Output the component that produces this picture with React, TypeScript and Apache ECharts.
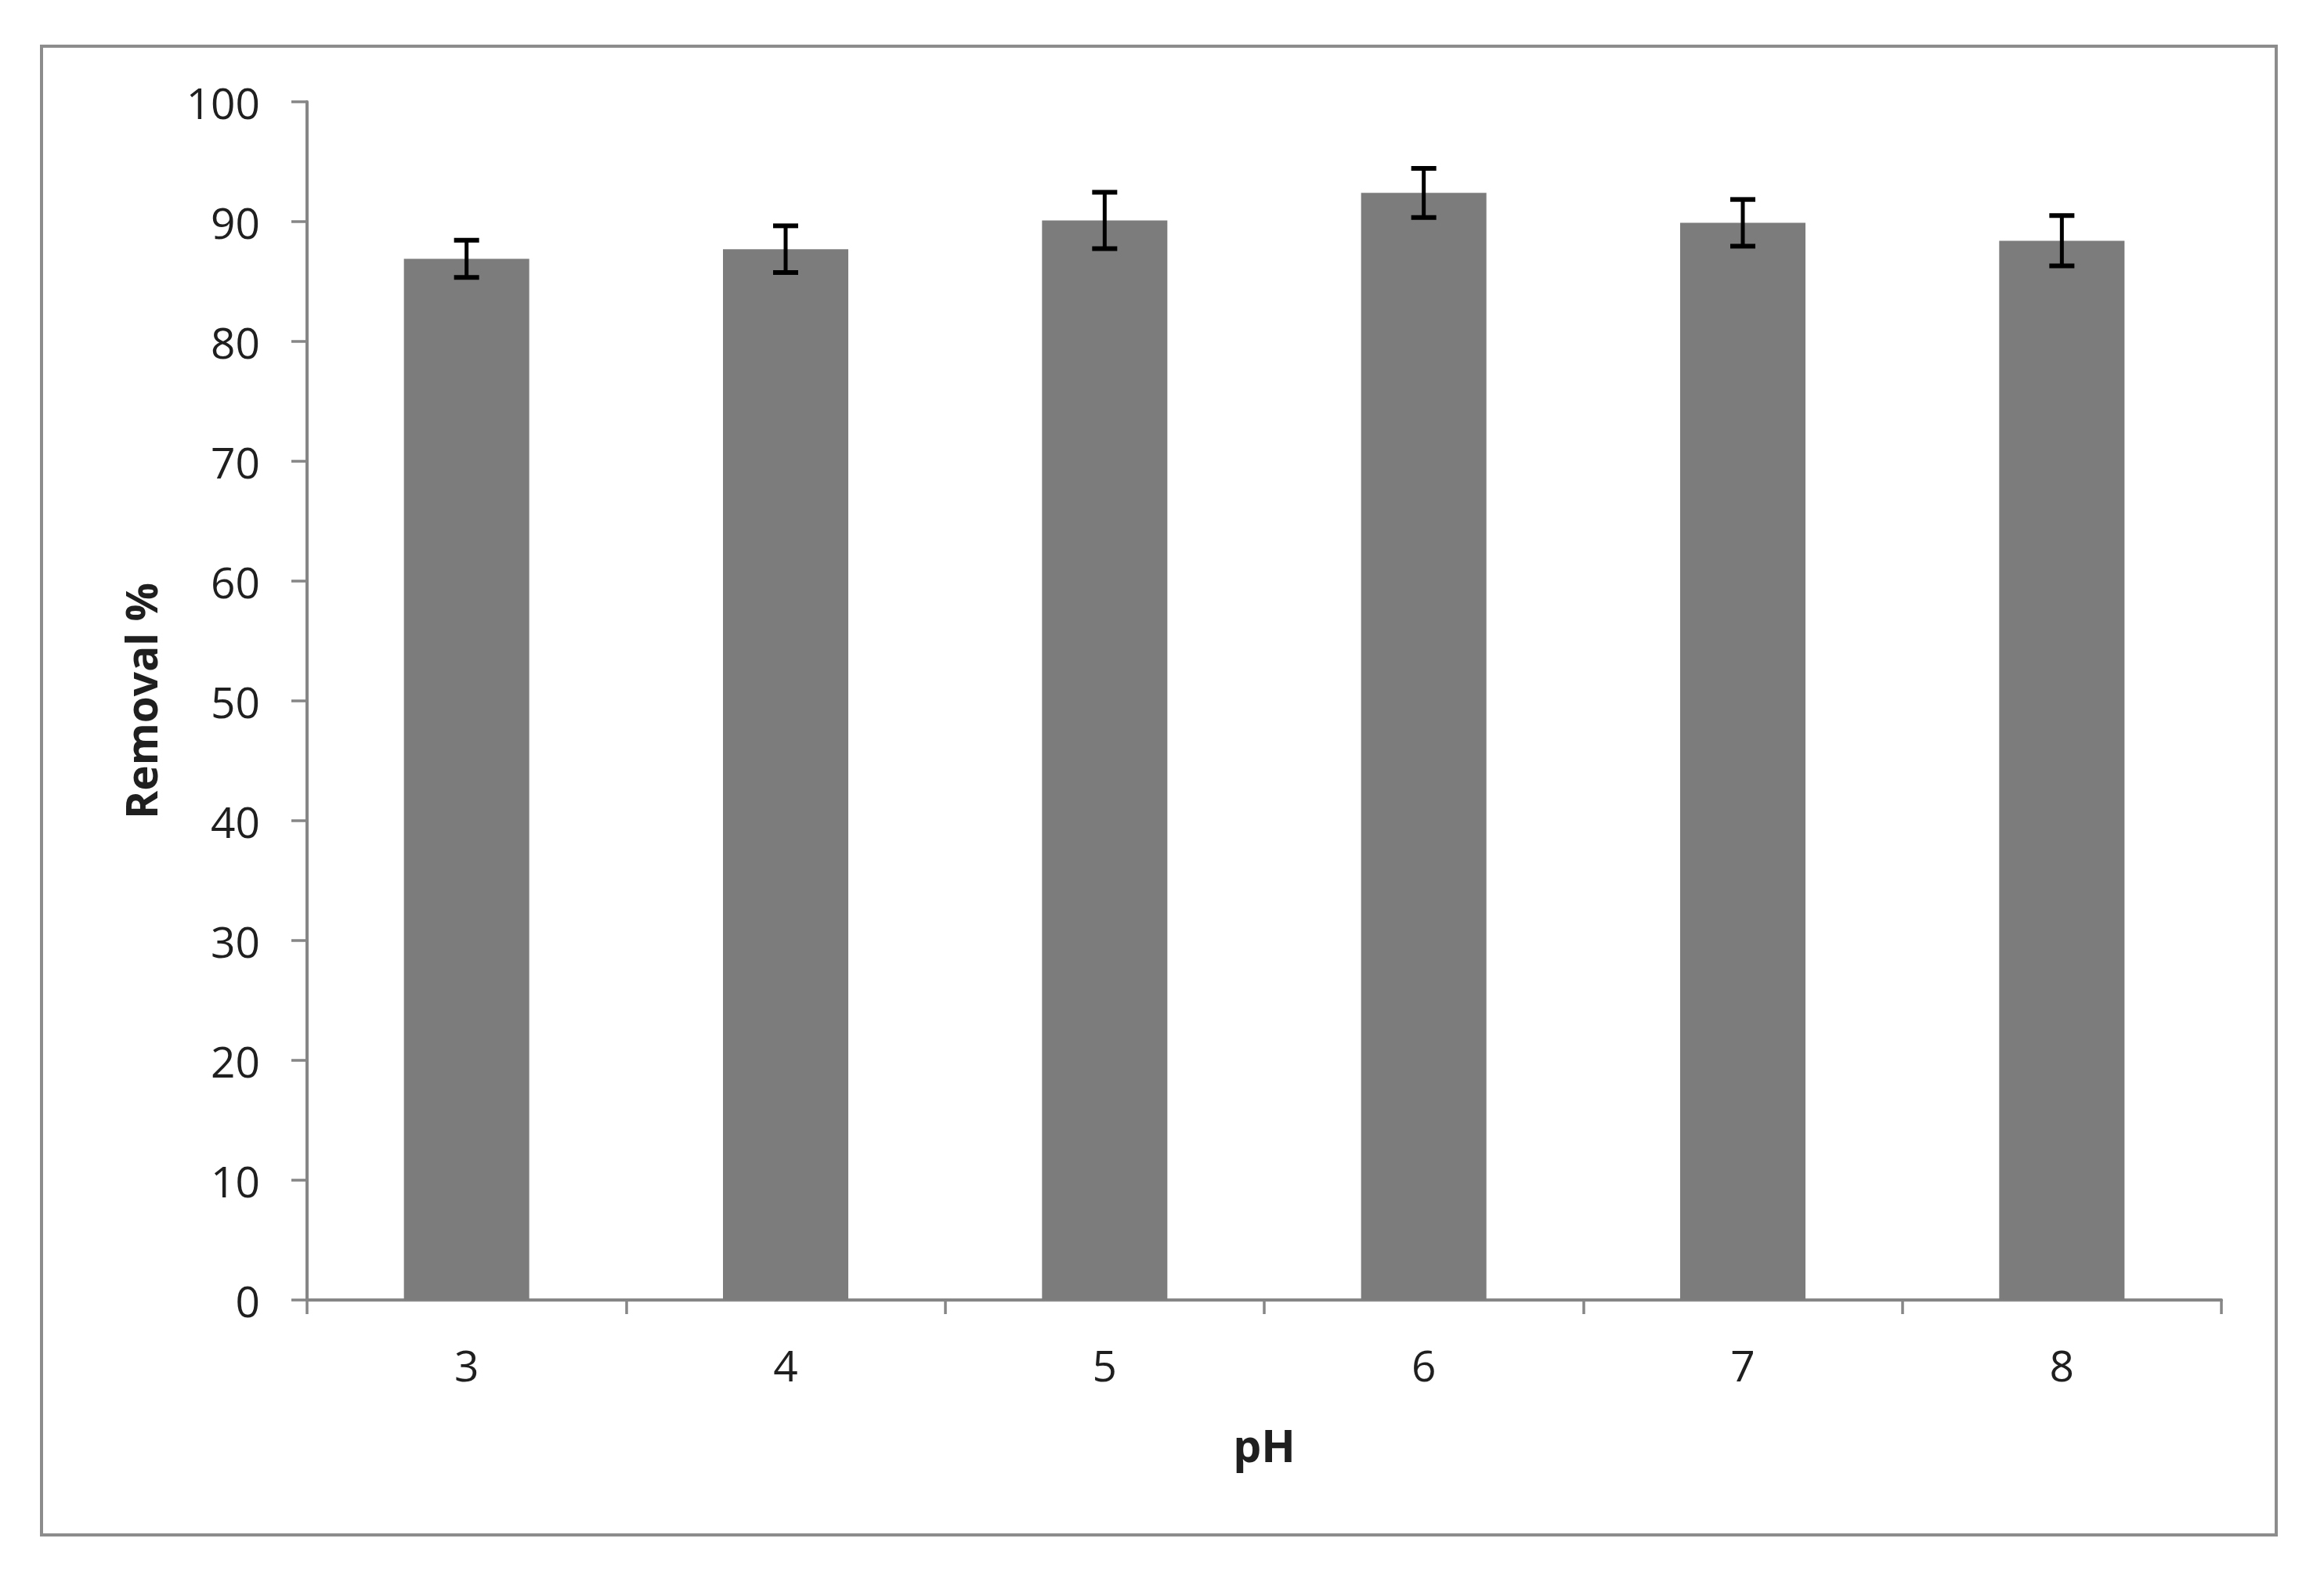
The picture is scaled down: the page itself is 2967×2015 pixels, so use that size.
import React, { useEffect, useRef } from "react";
import * as echarts from "echarts";

const phLabels = ["3", "4", "5", "6", "7", "8"];
const removal = [86.9, 87.7, 90.1, 92.4, 89.9, 88.4];
const errors = [1.55, 1.95, 2.35, 2.05, 1.95, 2.1];
const yMin = 0;
const yMax = 100;
const yInterval = 10;

const FONT = "'Open Sans', 'Noto Sans', sans-serif";
const AXIS_COLOR = "#868686";
const TEXT_COLOR = "#1f1f1f";

export default function App() {
  const ref = useRef<HTMLDivElement>(null);

  useEffect(() => {
    if (!ref.current) return;
    const chart = echarts.init(ref.current, null, { renderer: "svg" });

    const errData = removal.map((v, i) => [i, v - errors[i], v + errors[i]]);

    chart.setOption({
      animation: false,
      backgroundColor: "#ffffff",
      grid: { left: 392, right: 131, top: 130, bottom: 355 },
      graphic: [
        {
          type: "rect",
          shape: { x: 53, y: 59, width: 2853, height: 1901 },
          style: { fill: "none", stroke: "#8c8c8c", lineWidth: 4 },
          z: -10,
        },
      ],
      xAxis: {
        type: "category",
        data: phLabels,
        boundaryGap: true,
        name: "pH",
        nameLocation: "middle",
        nameGap: 156,
        nameTextStyle: { fontFamily: FONT, fontSize: 57, fontWeight: "bold", color: TEXT_COLOR },
        axisLine: { show: true, lineStyle: { color: AXIS_COLOR, width: 4 } },
        axisTick: { show: true, length: 18, alignWithLabel: false, lineStyle: { color: AXIS_COLOR, width: 3.5 } },
        axisLabel: { fontFamily: FONT, fontSize: 55, color: TEXT_COLOR, margin: 55 },
        splitLine: { show: false },
      },
      yAxis: {
        type: "value",
        min: yMin,
        max: yMax,
        interval: yInterval,
        name: "Removal %",
        nameLocation: "middle",
        nameGap: 185,
        nameTextStyle: { fontFamily: FONT, fontSize: 55, fontWeight: "bold", color: TEXT_COLOR },
        axisLine: { show: true, lineStyle: { color: AXIS_COLOR, width: 4 } },
        axisTick: { show: true, length: 20, lineStyle: { color: AXIS_COLOR, width: 3.5 } },
        axisLabel: { fontFamily: FONT, fontSize: 55, color: TEXT_COLOR, margin: 60 },
        splitLine: { show: false },
      },
      series: [
        {
          type: "bar",
          data: removal,
          barWidth: 160,
          itemStyle: { color: "#7c7c7c" },
        },
        {
          type: "custom",
          data: errData,
          encode: { x: 0, y: [1, 2] },
          z: 10,
          renderItem: (params: any, api: any) => {
            const i = api.value(0);
            const low = api.value(1);
            const high = api.value(2);
            const top = api.coord([i, high]);
            const bot = api.coord([i, low]);
            const hw = 16;
            const style = { stroke: "#000000", lineWidth: 5 };
            return {
              type: "group",
              children: [
                { type: "line", shape: { x1: top[0], y1: top[1], x2: bot[0], y2: bot[1] }, style },
                { type: "line", shape: { x1: top[0] - hw, y1: top[1], x2: top[0] + hw, y2: top[1] }, style: { stroke: "#000000", lineWidth: 6 } },
                { type: "line", shape: { x1: bot[0] - hw, y1: bot[1], x2: bot[0] + hw, y2: bot[1] }, style: { stroke: "#000000", lineWidth: 6 } },
              ],
            };
          },
        },
      ],
    });

    return () => chart.dispose();
  }, []);

  return (
    <div
      ref={ref}
      style={{ position: "absolute", left: 0, top: 0, width: 2967, height: 2015 }}
    />
  );
}
